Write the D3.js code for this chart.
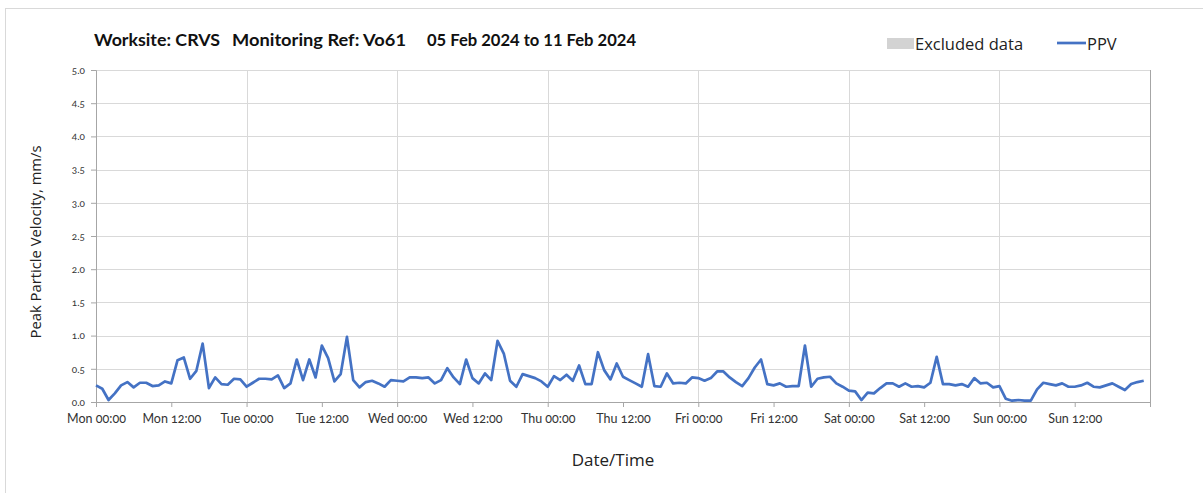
<!DOCTYPE html>
<meta charset="utf-8">
<style>
body { margin: 0; background: #fff; }
* { font-family: "Open Sans", "Noto Sans", sans-serif; }
.title { font-family: Lato, "Open Sans", sans-serif; font-weight: bold; font-size: 17px; fill: #111; }
.tick text { font-family: Lato, sans-serif; font-variant-numeric: oldstyle-nums; fill: #333; }
.grid line { stroke: #d9d9d9; }
.line { fill: none; stroke: #4472c4; stroke-width: 2.7px; stroke-linejoin: round; }
</style>
<body>
<script src="https://cdn.jsdelivr.net/npm/d3@7"></script>
<script>

// hourly PPV readings (mm/s), one array per day starting 00:00
var mon = [0.25, 0.20, 0.03, 0.13, 0.25, 0.30, 0.22, 0.29, 0.29, 0.24, 0.25, 0.31,
           0.28, 0.63, 0.67, 0.35, 0.47, 0.88, 0.21, 0.37, 0.27, 0.26, 0.35, 0.34];
var tue = [0.23, 0.29, 0.35, 0.35, 0.34, 0.40, 0.21, 0.28, 0.64, 0.33, 0.64, 0.37,
           0.85, 0.66, 0.31, 0.42, 0.98, 0.33, 0.22, 0.30, 0.32, 0.28, 0.23, 0.33];
var wed = [0.32, 0.31, 0.37, 0.37, 0.36, 0.37, 0.28, 0.33, 0.51, 0.37, 0.27, 0.64,
           0.36, 0.28, 0.43, 0.33, 0.92, 0.73, 0.32, 0.23, 0.42, 0.39, 0.36, 0.31];
var thu = [0.23, 0.39, 0.33, 0.41, 0.32, 0.55, 0.27, 0.27, 0.75, 0.48, 0.34, 0.58,
           0.38, 0.33, 0.28, 0.23, 0.72, 0.24, 0.23, 0.43, 0.28, 0.29, 0.28, 0.37];
var fri = [0.36, 0.32, 0.36, 0.46, 0.46, 0.37, 0.30, 0.24, 0.36, 0.52, 0.64, 0.27,
           0.25, 0.28, 0.23, 0.24, 0.24, 0.85, 0.23, 0.35, 0.37, 0.38, 0.28, 0.23];
var sat = [0.17, 0.16, 0.03, 0.14, 0.13, 0.21, 0.28, 0.28, 0.23, 0.28, 0.23, 0.24,
           0.22, 0.29, 0.68, 0.27, 0.27, 0.25, 0.27, 0.23, 0.36, 0.28, 0.29, 0.22];
var sun = [0.24, 0.05, 0.02, 0.03, 0.02, 0.02, 0.19, 0.29, 0.27, 0.25, 0.28, 0.23,
           0.23, 0.25, 0.29, 0.23, 0.22, 0.25, 0.28, 0.23, 0.18, 0.27, 0.30, 0.32];

var yTicks = [0, 0.5, 1.0, 1.5, 2.0, 2.5, 3.0, 3.5, 4.0, 4.5, 5.0];
var startDate = new Date(2024, 1, 5, 0, 0);
var endDate = new Date(2024, 1, 12, 0, 0);

var W = 1203, H = 493;
var margin = {top: 70, right: 53, bottom: 91, left: 96},
    width = W - margin.left - margin.right,
    height = H - margin.top - margin.bottom;

var ppv = [].concat(mon, tue, wed, thu, fri, sat, sun);
var data = ppv.map(function(v, i) {
  return {t: d3.timeHour.offset(startDate, i), v: v};
});

var svg = d3.select("body").append("svg")
    .attr("width", W)
    .attr("height", H);

// outer frame
svg.append("rect")
    .attr("x", 5.5).attr("y", 8.5)
    .attr("width", W + 20).attr("height", H + 20)
    .attr("fill", "none").attr("stroke", "#d9d9d9");

var g = svg.append("g")
    .attr("transform", "translate(" + margin.left + "," + margin.top + ")");

var x = d3.scaleTime().domain([startDate, endDate]).range([0, width]);
var y = d3.scaleLinear().domain([0, 5]).range([height, 0]);

// horizontal grid
g.append("g").attr("class", "grid")
  .selectAll("line").data(yTicks.slice(1)).enter().append("line")
    .attr("x1", 0).attr("x2", width)
    .attr("y1", function(d) { return Math.round(y(d)) + 0.5; })
    .attr("y2", function(d) { return Math.round(y(d)) + 0.5; });

// vertical grid at each day
g.append("g").attr("class", "grid")
  .selectAll("line").data(d3.timeDay.range(d3.timeDay.offset(startDate, 1), endDate))
  .enter().append("line")
    .attr("y1", 0).attr("y2", height)
    .attr("x1", function(d) { return Math.round(x(d)) + 0.5; })
    .attr("x2", function(d) { return Math.round(x(d)) + 0.5; });

// right border
g.append("line")
    .attr("x1", width + 0.5).attr("x2", width + 0.5)
    .attr("y1", 0).attr("y2", height + 5)
    .attr("stroke", "#a6a6a6");

// y axis
var yAxis = g.append("g")
    .call(d3.axisLeft(y).tickValues(yTicks).tickFormat(d3.format(".1f")).tickSize(5).tickPadding(6));
yAxis.selectAll("text").style("font-size", "10px");

// x axis
var xTicks = d3.timeHour.every(12).range(startDate, d3.timeHour.offset(endDate, 1));
var xAxis = g.append("g")
    .attr("transform", "translate(0," + height + ")")
    .call(d3.axisBottom(x).tickValues(xTicks).tickSize(5).tickPadding(7)
      .tickFormat(function(d) { return +d >= +endDate ? "" : d3.timeFormat("%a %H:%M")(d); }));
xAxis.selectAll("text").style("font-size", "12.5px");

[yAxis, xAxis].forEach(function(a) {
  a.select(".domain").attr("stroke", "#a6a6a6");
  a.selectAll(".tick line").attr("stroke", "#a6a6a6");
});

// PPV line
var line = d3.line()
    .x(function(d) { return x(d.t); })
    .y(function(d) { return y(d.v); });

g.append("path")
    .datum(data)
    .attr("class", "line")
    .attr("d", line);

// titles
var titleParts = [
  {x: 94, w: 126, text: "Worksite: CRVS"},
  {x: 232, w: 174, text: "Monitoring Ref: Vo61"},
  {x: 427, w: 209, text: "05 Feb 2024 to 11 Feb 2024"}
];
svg.selectAll(".title").data(titleParts).enter().append("text")
    .attr("class", "title")
    .attr("x", function(d) { return d.x; })
    .attr("y", 46)
    .attr("textLength", function(d) { return d.w; })
    .attr("lengthAdjust", "spacingAndGlyphs")
    .text(function(d) { return d.text; });

svg.append("text")
    .attr("text-anchor", "middle")
    .attr("transform", "translate(41,242)rotate(-90)")
    .style("font-size", "14.8px")
    .attr("fill", "#222")
    .text("Peak Particle Velocity, mm/s");

svg.append("text")
    .attr("text-anchor", "middle")
    .attr("x", 613)
    .attr("y", 466)
    .style("font-size", "17px")
    .attr("fill", "#222")
    .text("Date/Time");

// legend
svg.append("rect")
    .attr("x", 887).attr("y", 38).attr("width", 27).attr("height", 11)
    .attr("fill", "#d3d3d3");
svg.append("text")
    .attr("x", 915).attr("y", 50)
    .style("font-size", "16.5px").attr("fill", "#222")
    .text("Excluded data");
svg.append("line")
    .attr("x1", 1057).attr("x2", 1086).attr("y1", 43).attr("y2", 43)
    .attr("stroke", "#4472c4").attr("stroke-width", 2.7);
svg.append("text")
    .attr("x", 1087).attr("y", 50)
    .style("font-size", "16.5px").attr("fill", "#222")
    .text("PPV");

</script>
</body>
</html>
